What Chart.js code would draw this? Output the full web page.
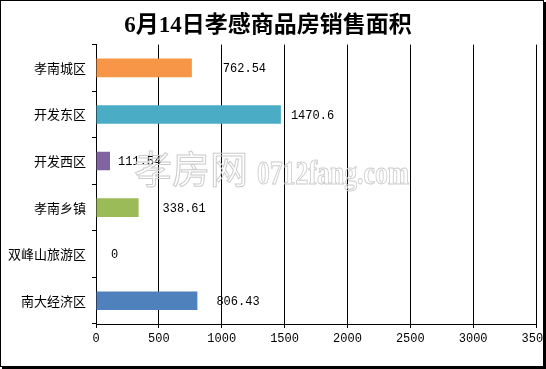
<!DOCTYPE html>
<html>
<head>
<meta charset="utf-8">
<script src="https://cdn.jsdelivr.net/npm/chart.js@4"></script>
<style>
body { margin: 0; background: #fff; }
#wrap { position: relative; width: 546px; height: 369px; }
#chartCanvas { display: block; }
#frame {
    position: absolute; left: 0; top: 0; width: 544px; height: 367px;
    box-sizing: border-box; border: 1px solid #000; box-shadow: 2px 2px 0 #000;
    pointer-events: none;
}
</style>
</head>
<body>
<div id="wrap">
    <canvas id="chartCanvas" width="546" height="369"></canvas>
    <div id="frame"></div>
</div>
<script>
const districts = ["孝南城区", "开发东区", "开发西区", "孝南乡镇", "双峰山旅游区", "南大经济区"];
const areas = [762.54, 1470.6, 111.54, 338.61, 0, 806.43];
const barColors = ["#F79646", "#4BACC6", "#8064A2", "#9BBB59", "#4F81BD", "#4F81BD"];
const xMin = 0, xMax = 3500, xStep = 500;
// gap between bar end and its value label, in px (the labels sit unevenly in the picture)
const labelGap = [31, 10, 8, 24, 15, 19];

const numFont = "12px 'Liberation Mono', monospace";

// value labels next to each bar
const valueLabels = {
    id: "valueLabels",
    afterDatasetsDraw(chart) {
        const ctx = chart.ctx;
        const bars = chart.getDatasetMeta(0).data;
        ctx.save();
        ctx.font = numFont;
        ctx.fillStyle = "#000";
        ctx.textBaseline = "middle";
        bars.forEach((bar, i) => {
            ctx.fillText(String(areas[i]), bar.x + labelGap[i], bar.y + 1);
        });
        ctx.restore();
    }
};

// faint site watermark over the plot
const watermark = {
    id: "watermark",
    afterDraw(chart) {
        const ctx = chart.ctx;
        ctx.save();
        ctx.strokeStyle = "#cccccc";
        ctx.lineWidth = 1;
        ctx.textBaseline = "alphabetic";
        ctx.font = "38px 'Noto Sans CJK SC'";
        ctx.strokeText("孝房网", 134, 183);
        ctx.translate(257, 184);
        ctx.scale(0.78, 1);
        ctx.font = "bold 33px 'Liberation Serif'";
        ctx.strokeText("0712fang.com", 0, 0);
        ctx.restore();
    }
};

const canvas = document.getElementById("chartCanvas");
new Chart(canvas, {
    type: "bar",
    data: {
        labels: districts,
        datasets: [{
            data: areas,
            backgroundColor: barColors,
            borderWidth: 0,
            categoryPercentage: 1,
            barPercentage: 0.4
        }]
    },
    options: {
        indexAxis: "y",
        responsive: false,
        animation: false,
        devicePixelRatio: 1,
        layout: { padding: { left: 0, right: 10, top: 0, bottom: 0 } },
        plugins: {
            legend: { display: false },
            tooltip: { enabled: false },
            title: {
                display: true,
                text: "6月14日孝感商品房销售面积",
                color: "#000",
                font: { family: "'Liberation Serif', 'Noto Sans CJK SC'", size: 23, weight: "bold" },
                padding: { top: 12, bottom: 5 }
            }
        },
        scales: {
            y: {
                grid: { drawOnChartArea: false, tickLength: 4, color: "#000", offset: true },
                border: { color: "#000" },
                ticks: { color: "#000", font: { family: "'Noto Sans CJK SC'", size: 13 }, padding: 6 },
                afterFit(s) { s.width = 96; s.paddingTop = 0; s.paddingBottom = 0; }
            },
            x: {
                min: xMin,
                max: xMax,
                grid: { color: "#000", tickLength: 4 },
                border: { color: "#000" },
                ticks: {
                    stepSize: xStep,
                    color: "#000",
                    font: { family: "'Liberation Mono', monospace", size: 12 },
                    padding: 4,
                    callback: (v) => String(v)
                },
                afterFit(s) { s.height = 45; s.paddingLeft = 0; s.paddingRight = 0; }
            }
        }
    },
    plugins: [valueLabels, watermark]
});
</script>
</body>
</html>
